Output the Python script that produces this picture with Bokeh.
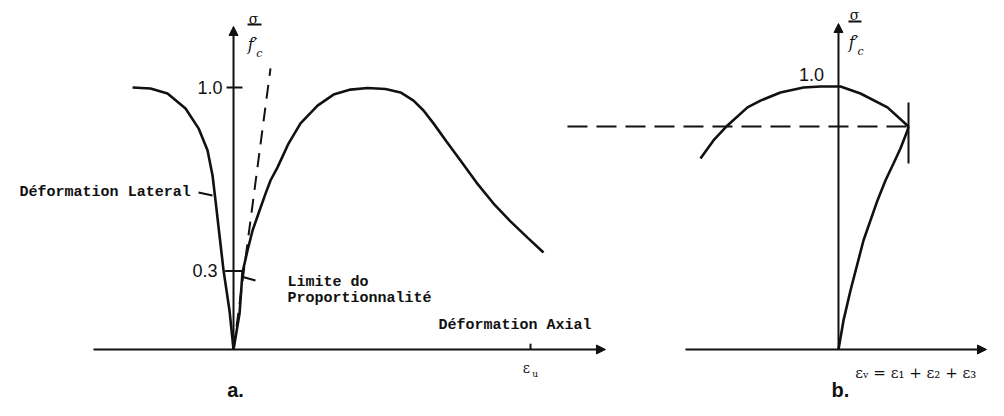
from bokeh.plotting import figure
from bokeh.models import Range1d, Arrow, NormalHead
from bokeh.core.properties import value
from bokeh.embed import file_html
from bokeh.resources import INLINE

# ---------------- data: panel a (axial / lateral strain, per mille ; stress ratio sigma/f'c)
lat_strain = [-1.507, -1.239, -0.985, -0.716, -0.522, -0.388, -0.313, -0.269, -0.209, -0.149, -0.060, 0.0]
lat_stress = [1.000, 0.996, 0.977, 0.920, 0.844, 0.760, 0.664, 0.569, 0.435, 0.302, 0.149, 0.0]

ax_strain = [0.0, 0.090, 0.134, 0.209, 0.284, 0.373, 0.478, 0.552, 0.657, 0.821, 1.000, 1.254,
             1.493, 1.746, 2.000, 2.269, 2.493, 2.687, 2.836, 2.985, 3.179, 3.388, 3.627,
             3.881, 4.134, 4.388, 4.627]
ax_stress = [0.0, 0.137, 0.294, 0.378, 0.454, 0.519, 0.595, 0.645, 0.695, 0.786, 0.863, 0.931,
             0.973, 0.992, 0.998, 0.994, 0.981, 0.950, 0.912, 0.863, 0.794, 0.721, 0.637,
             0.557, 0.489, 0.427, 0.370]

tangent_strain = [0.0, 0.552]
tangent_stress = [0.0, 1.073]

prop_limit = 0.3
eps_u = 4.433

# ---------------- data: panel b (volumetric strain ; stress ratio)
vol_top_strain = [-2.060, -1.866, -1.657, -1.358, -1.164, -0.866, -0.522, -0.269, 0.030, 0.328, 0.731, 1.045]
vol_top_stress = [0.729, 0.798, 0.855, 0.924, 0.950, 0.981, 1.000, 1.004, 1.004, 0.977, 0.924, 0.851]

vol_low_strain = [0.0, 0.075, 0.179, 0.373, 0.582, 0.701, 0.821, 0.925, 1.030, 1.045]
vol_low_stress = [0.0, 0.111, 0.225, 0.416, 0.569, 0.645, 0.710, 0.767, 0.836, 0.851]

crit_stress = 0.851
crit_strain = 1.045

# ---------------- figure
p = figure(width=988, height=400, x_range=Range1d(-3.478, 11.269),
           y_range=Range1d(-0.1947, 1.332), output_backend="svg",
           toolbar_location=None, x_axis_type=None, y_axis_type=None, min_border=0)
p.extra_x_ranges = {"b": Range1d(-12.507, 2.239)}
p.grid.visible = False
p.outline_line_color = None
p.background_fill_color = "white"
p.border_fill_color = "white"

K = "#111111"
W = 2.6

def arrow(x0, y0, x1, y1, rn="default"):
    p.add_layout(Arrow(x_start=x0, y_start=y0, x_end=x1, y_end=y1, line_color=K, line_width=2,
                       end=NormalHead(size=9, fill_color=K, line_color=K),
                       x_range_name=rn))

# ---- panel a
arrow(-2.09, 0, 5.552, 0)
arrow(0, 0, 0, 1.233)
p.line(lat_strain, lat_stress, line_color=K, line_width=W)
p.line(ax_strain, ax_stress, line_color=K, line_width=W)
p.line(tangent_strain, tangent_stress, line_color=K, line_width=2, line_dash="14 9")
p.segment(x0=[-0.104], y0=[1.0], x1=[0.134], y1=[1.0], line_color=K, line_width=2)
p.segment(x0=[-0.125], y0=[prop_limit], x1=[0.145], y1=[prop_limit], line_color=K, line_width=2)
p.segment(x0=[eps_u], y0=[0], x1=[eps_u], y1=[0.022], line_color=K, line_width=2)
# leaders
p.segment(x0=[0.154, -0.522], y0=[0.276, 0.599], x1=[0.328, -0.313], y1=[0.263, 0.588],
          line_color=K, line_width=2)

p.text(x=[-0.164, -0.24], y=[1.0, prop_limit], text=["1.0", "0.3"],
       text_font=value("Liberation Sans"), text_font_size="18px", text_align="right",
       text_baseline="middle", text_color=K)
p.text(x=[-0.64], y=[0.599], text=["Déformation Lateral"], text_font=value("Liberation Mono"),
       text_font_style="bold", text_font_size="15px", text_align="right",
       text_baseline="middle", text_color=K)
p.text(x=[0.806, 0.806, 3.06], y=[0.256, 0.195, 0.092],
       text=["Limite do", "Proportionnalité", "Déformation Axial"],
       text_font=value("Liberation Mono"), text_font_style="bold", text_font_size="15px",
       text_align="left", text_baseline="middle", text_color=K)
# sigma / f'c (a)
p.text(x=[0.299], y=[1.262], text=["σ"], text_font=value("DejaVu Serif"),
       text_font_size="14px", text_align="center", text_baseline="middle", text_color=K)
p.segment(x0=[0.209], y0=[1.240], x1=[0.418], y1=[1.240], line_color=K, line_width=2)
p.text(x=[0.284], y=[1.165], text=["f′"], text_font=value("DejaVu Serif"), text_font_style="italic",
       text_font_size="16px", text_align="center", text_baseline="middle", text_color=K)
p.text(x=[0.385], y=[1.128], text=["c"], text_font=value("DejaVu Serif"), text_font_style="italic",
       text_font_size="11px", text_align="center", text_baseline="middle", text_color=K)
# eps_u
p.text(x=[eps_u - 0.06], y=[-0.072], text=["ε"], text_font=value("DejaVu Serif"),
       text_font_size="14px", text_align="center", text_baseline="middle", text_color=K)
p.text(x=[eps_u + 0.07], y=[-0.092], text=["u"], text_font=value("DejaVu Serif"),
       text_font_size="9px", text_align="center", text_baseline="middle", text_color=K)
p.text(x=[0.03], y=[-0.155], text=["a."], text_font=value("Liberation Sans"), text_font_style="bold",
       text_font_size="20px", text_align="center", text_baseline="middle", text_color=K)

# ---- panel b
arrow(-2.284, 0, 2.209, 0, "b")
arrow(0, 0, 0, 1.244, "b")
p.line(vol_top_strain, vol_top_stress, line_color=K, line_width=W, x_range_name="b")
p.line(vol_low_strain, vol_low_stress, line_color=K, line_width=W, x_range_name="b")
p.line([-4.045, crit_strain], [crit_stress, crit_stress], line_color=K, line_width=2,
       line_dash="20 9", x_range_name="b")
p.segment(x0=[crit_strain], y0=[0.710], x1=[crit_strain], y1=[0.943], line_color=K,
          line_width=2, x_range_name="b")
p.text(x=[-0.403], y=[1.05], text=["1.0"], text_font=value("Liberation Sans"),
       text_font_size="18px", text_align="center", text_baseline="middle", text_color=K,
       x_range_name="b")
p.text(x=[0.239], y=[1.277], text=["σ"], text_font=value("DejaVu Serif"),
       text_font_size="14px", text_align="center", text_baseline="middle", text_color=K,
       x_range_name="b")
p.segment(x0=[0.149], y0=[1.252], x1=[0.343], y1=[1.252], line_color=K, line_width=2,
          x_range_name="b")
p.text(x=[0.224], y=[1.172], text=["f′"], text_font=value("DejaVu Serif"), text_font_style="italic",
       text_font_size="16px", text_align="center", text_baseline="middle", text_color=K,
       x_range_name="b")
p.text(x=[0.33], y=[1.138], text=["c"], text_font=value("DejaVu Serif"), text_font_style="italic",
       text_font_size="11px", text_align="center", text_baseline="middle", text_color=K,
       x_range_name="b")
p.text(x=[0.25], y=[-0.088], text=["εᵥ = ε₁ + ε₂ + ε₃"], text_font=value("DejaVu Serif"),
       text_font_size="15px", text_align="left", text_baseline="middle", text_color=K,
       x_range_name="b")
p.text(x=[0.03], y=[-0.155], text=["b."], text_font=value("Liberation Sans"), text_font_style="bold",
       text_font_size="20px", text_align="center", text_baseline="middle", text_color=K,
       x_range_name="b")

open("out.html", "w").write(file_html(p, INLINE))
